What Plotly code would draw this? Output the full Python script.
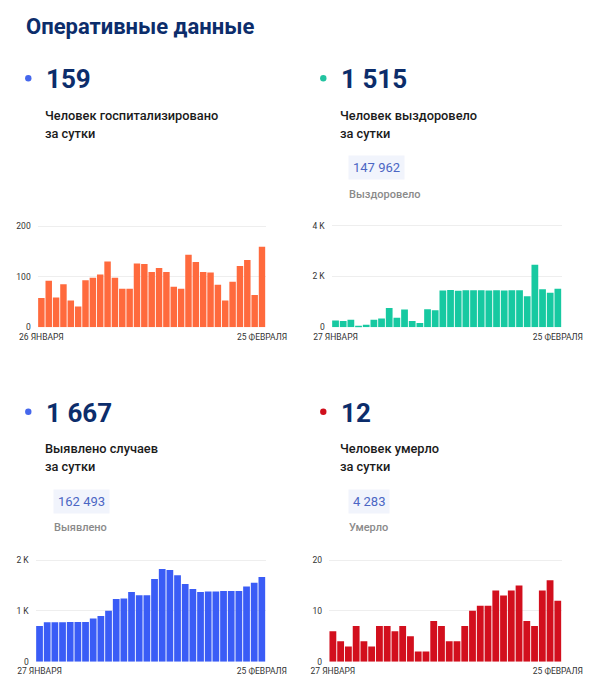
import plotly.graph_objects as go
import pandas as pd

W, H = 605, 694

# ---------------- data ----------------
hosp_dates = [d.strftime("%Y-%m-%d") for d in pd.date_range("2021-01-26", "2021-02-25")]
hosp_values = [58, 92, 59, 85, 53, 41, 93, 98, 104, 130, 98, 76, 76, 126, 125, 109,
               117, 109, 80, 76, 143, 129, 109, 108, 84, 53, 90, 121, 133, 64, 159]

rec_dates = [d.strftime("%Y-%m-%d") for d in pd.date_range("2021-01-27", "2021-02-25")]
rec_values = [270, 250, 300, 60, 100, 300, 350, 760, 380, 700, 250, 170, 710, 670,
              1450, 1470, 1440, 1460, 1460, 1460, 1450, 1460, 1450, 1460, 1460, 1220,
              2460, 1500, 1360, 1515]

case_dates = [d.strftime("%Y-%m-%d") for d in pd.date_range("2021-01-27", "2021-02-25")]
case_values = [700, 775, 775, 775, 780, 780, 780, 850, 900, 1000, 1235, 1245, 1370,
               1305, 1305, 1625, 1825, 1805, 1700, 1530, 1430, 1370, 1380, 1380, 1390,
               1390, 1390, 1480, 1555, 1667]

death_dates = [d.strftime("%Y-%m-%d") for d in pd.date_range("2021-01-27", "2021-02-25")]
death_values = [6, 4, 3, 7, 4, 3, 7, 7, 6, 7, 5, 2, 2, 8, 7, 4, 4, 7, 10, 11, 11,
                14, 13, 14, 15, 8, 7, 14, 16, 12]

hosp_ticks = [0, 100, 200]
hosp_ticktext = ["0", "100", "200"]
rec_ticks = [0, 2000, 4000]
rec_ticktext = ["0", "2 K", "4 K"]
case_ticks = [0, 1000, 2000]
case_ticktext = ["0", "1 K", "2 K"]
death_ticks = [0, 10, 20]
death_ticktext = ["0", "10", "20"]

hosp_xlabels = ["26 ЯНВАРЯ", "25 ФЕВРАЛЯ"]
other_xlabels = ["27 ЯНВАРЯ", "25 ФЕВРАЛЯ"]

title_text = "Оперативные данные"
big_numbers = ["159", "1 515", "1 667", "12"]
sub_line1 = ["Человек госпитализировано", "Человек выздоровело", "Выявлено случаев", "Человек умерло"]
sub_line2 = ["за сутки", "за сутки", "за сутки", "за сутки"]
total_values = [None, "147 962", "162 493", "4 283"]
total_labels = [None, "Выздоровело", "Выявлено", "Умерло"]

# ---------------- styles ----------------
NAVY = "#0c2d6b"
bar_colors = ["#ff6a3d", "#17c9a1", "#3a5cf6", "#d20f1d"]
dot_colors = ["#4567ec", "#22c3a0", "#4567ec", "#cf0f1c"]
FONT = "Roboto"


def px_x(x):
    return x / W


def px_y(y):
    return 1 - y / H


panels = [
    dict(x=hosp_dates, y=hosp_values, ticks=hosp_ticks, ticktext=hosp_ticktext,
         xl=hosp_xlabels, dom=(37.7, 265.7), base=327.3, grid=226.0),
    dict(x=rec_dates, y=rec_values, ticks=rec_ticks, ticktext=rec_ticktext,
         xl=other_xlabels, dom=(331.7, 561.7), base=327.3, grid=225.7),
    dict(x=case_dates, y=case_values, ticks=case_ticks, ticktext=case_ticktext,
         xl=other_xlabels, dom=(35.7, 265.7), base=661.7, grid=560.0),
    dict(x=death_dates, y=death_values, ticks=death_ticks, ticktext=death_ticktext,
         xl=other_xlabels, dom=(329.0, 561.7), base=661.7, grid=560.0),
]

fig = go.Figure()
layout = dict(
    width=W, height=H, margin=dict(l=0, r=0, t=0, b=0, autoexpand=False),
    paper_bgcolor="white", plot_bgcolor="white", showlegend=False,
    bargap=0.12, font=dict(family=FONT, color="#333333"),
)

for i, p in enumerate(panels):
    n = i + 1
    xa = "x" if n == 1 else f"x{n}"
    ya = "y" if n == 1 else f"y{n}"
    fig.add_trace(go.Bar(x=p["x"], y=p["y"], xaxis=xa, yaxis=ya,
                         marker=dict(color=bar_colors[i], line=dict(width=0)),
                         hoverinfo="skip"))
    top_px = p["grid"] - 4
    ymax = p["ticks"][-1] * (p["base"] - top_px) / (p["base"] - p["grid"])
    xkey = "xaxis" if n == 1 else f"xaxis{n}"
    ykey = "yaxis" if n == 1 else f"yaxis{n}"
    layout[xkey] = dict(
        domain=[px_x(p["dom"][0]), px_x(p["dom"][1])], anchor=ya,
        type="category", range=[-0.5, len(p["x"]) - 0.5],
        tickvals=[p["x"][0], p["x"][-1]], ticktext=p["xl"],
        showgrid=False, zeroline=False, showline=False, ticks="",
        tickfont=dict(family=FONT, size=8.5, color="#333333"),
        ticklabelstandoff=3, fixedrange=True, automargin=False,
    )
    layout[ykey] = dict(
        domain=[px_y(p["base"]), px_y(top_px)], anchor=xa,
        range=[0, ymax], tickvals=p["ticks"], ticktext=p["ticktext"],
        showgrid=True, gridcolor="#eeeeee", gridwidth=1, zeroline=False,
        showline=False, ticks="",
        tickfont=dict(family=FONT, size=8.5, color="#333333"),
        ticklabelstandoff=6, fixedrange=True, automargin=False,
    )

fig.update_layout(**layout)

# ---------------- header texts ----------------
ann = []
shapes = []
ann.append(dict(text=title_text, x=px_x(24), y=px_y(26.5), xref="paper", yref="paper",
                xanchor="left", yanchor="middle", showarrow=False,
                font=dict(family=FONT, size=22, color=NAVY, weight="bold")))

offsets = [(0, 0), (295, 0), (0, 333.4), (295, 333.4)]
for i, (dx, dy) in enumerate(offsets):
    cx, cy = 28.3 + dx, 78.3 + dy
    r = 3.2
    shapes.append(dict(type="circle", xref="paper", yref="paper",
                       x0=px_x(cx - r), x1=px_x(cx + r), y0=px_y(cy + r), y1=px_y(cy - r),
                       fillcolor=dot_colors[i], line=dict(width=0)))
    ann.append(dict(text=big_numbers[i], x=px_x(43.5 + dx), y=px_y(79.5 + dy),
                    xref="paper", yref="paper", xanchor="left", yanchor="middle",
                    showarrow=False,
                    font=dict(family=FONT, size=26, color=NAVY, weight="bold")))
    ann.append(dict(text=sub_line1[i], x=px_x(43.3 + dx), y=px_y(115 + dy),
                    xref="paper", yref="paper", xanchor="left", yanchor="middle",
                    showarrow=False,
                    font=dict(family=FONT, size=12.8, color="#1a1a1a", weight=500)))
    ann.append(dict(text=sub_line2[i], x=px_x(43.3 + dx), y=px_y(133.5 + dy),
                    xref="paper", yref="paper", xanchor="left", yanchor="middle",
                    showarrow=False,
                    font=dict(family=FONT, size=12.8, color="#1a1a1a", weight=500)))
    if total_values[i]:
        ann.append(dict(text=total_values[i], x=px_x(53 + dx), y=px_y(167.7 + dy),
                        xref="paper", yref="paper", xanchor="left", yanchor="middle",
                        showarrow=False, bgcolor="#f1f4fc", borderpad=4,
                        font=dict(family=FONT, size=13, color="#4b66c4")))
        ann.append(dict(text=total_labels[i], x=px_x(52 + dx), y=px_y(194.5 + dy),
                        xref="paper", yref="paper", xanchor="left", yanchor="middle",
                        showarrow=False,
                        font=dict(family=FONT, size=11, color="#8a8a8a", weight=500)))

fig.update_layout(annotations=ann, shapes=shapes)
fig.write_html("out.html", config={"displayModeBar": False},
               post_script="document.body.style.margin='0';document.body.style.padding='0';")
